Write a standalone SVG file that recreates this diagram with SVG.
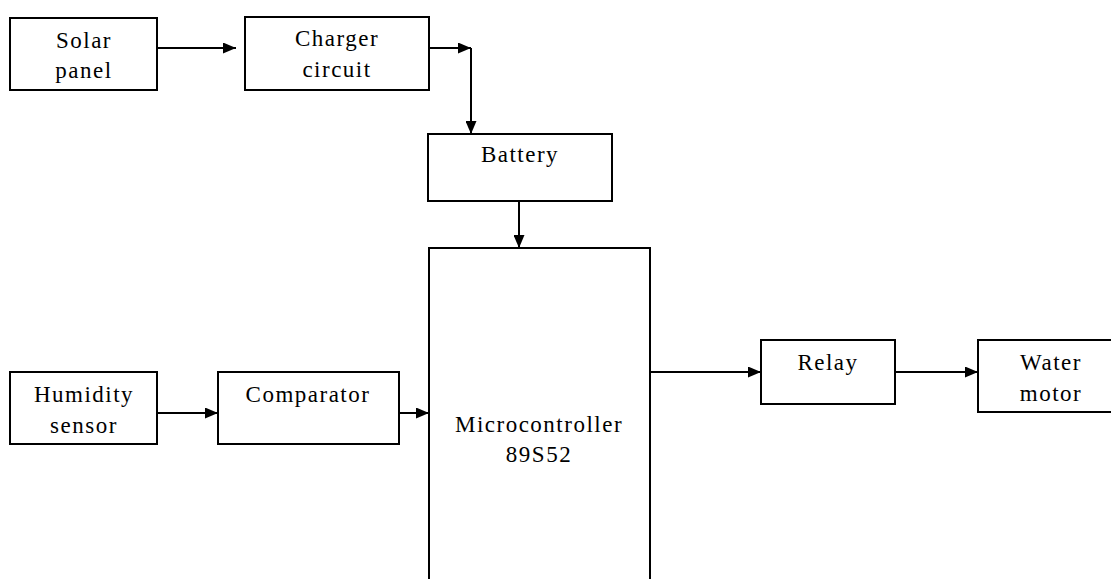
<svg xmlns="http://www.w3.org/2000/svg" width="1111" height="579" viewBox="0 0 1111 579">
<defs>
<marker id="ah" markerWidth="13" markerHeight="11" refX="13" refY="5.5" orient="auto" markerUnits="userSpaceOnUse">
<path d="M0,0 L13,5.5 L0,11 Z" fill="#000"/>
</marker>
</defs>
<style>
.box{fill:#fff;stroke:#000;stroke-width:2}
.t{font-size:23px;fill:#000;text-anchor:middle;letter-spacing:1.5px}
.c{fill:none;stroke:#000;stroke-width:2}
</style>
<rect width="1111" height="579" fill="#fff"/>
<g font-family="Liberation Serif, Times New Roman, serif">
<g id="solar"><rect class="box" x="10" y="18" width="147" height="72"/><text class="t" x="84" y="48">Solar</text><text class="t" x="84" y="78">panel</text></g>
<g id="charger"><rect class="box" x="245" y="17" width="184" height="73"/><text class="t" x="337" y="46">Charger</text><text class="t" x="337" y="77">circuit</text></g>
<g id="battery"><rect class="box" x="428" y="134" width="184" height="67"/><text class="t" x="520" y="162">Battery</text></g>
<g id="micro"><rect class="box" x="429" y="248" width="221" height="340"/><text class="t" x="539" y="432">Microcontroller</text><text class="t" x="539" y="462">89S52</text></g>
<g id="humidity"><rect class="box" x="10" y="372" width="147" height="72"/><text class="t" x="84" y="402">Humidity</text><text class="t" x="84" y="433">sensor</text></g>
<g id="comparator"><rect class="box" x="218" y="372" width="181" height="72"/><text class="t" x="308" y="402">Comparator</text></g>
<g id="relay"><rect class="box" x="761" y="340" width="134" height="64"/><text class="t" x="828" y="370">Relay</text></g>
<g id="water"><rect class="box" x="978" y="340" width="140" height="72"/><text class="t" x="1051" y="370">Water</text><text class="t" x="1051" y="401">motor</text></g>
</g>
<g id="connectors">
<path class="c" d="M157,48 L236,48" marker-end="url(#ah)"/>
<path class="c" d="M429,48 L471,48" marker-end="url(#ah)"/>
<path class="c" d="M471,48 L471,134" marker-end="url(#ah)"/>
<path class="c" d="M519,201 L519,248" marker-end="url(#ah)"/>
<path class="c" d="M157,413 L218,413" marker-end="url(#ah)"/>
<path class="c" d="M399,413 L429,413" marker-end="url(#ah)"/>
<path class="c" d="M650,372 L761,372" marker-end="url(#ah)"/>
<path class="c" d="M895,372 L978,372" marker-end="url(#ah)"/>
</g>
</svg>
